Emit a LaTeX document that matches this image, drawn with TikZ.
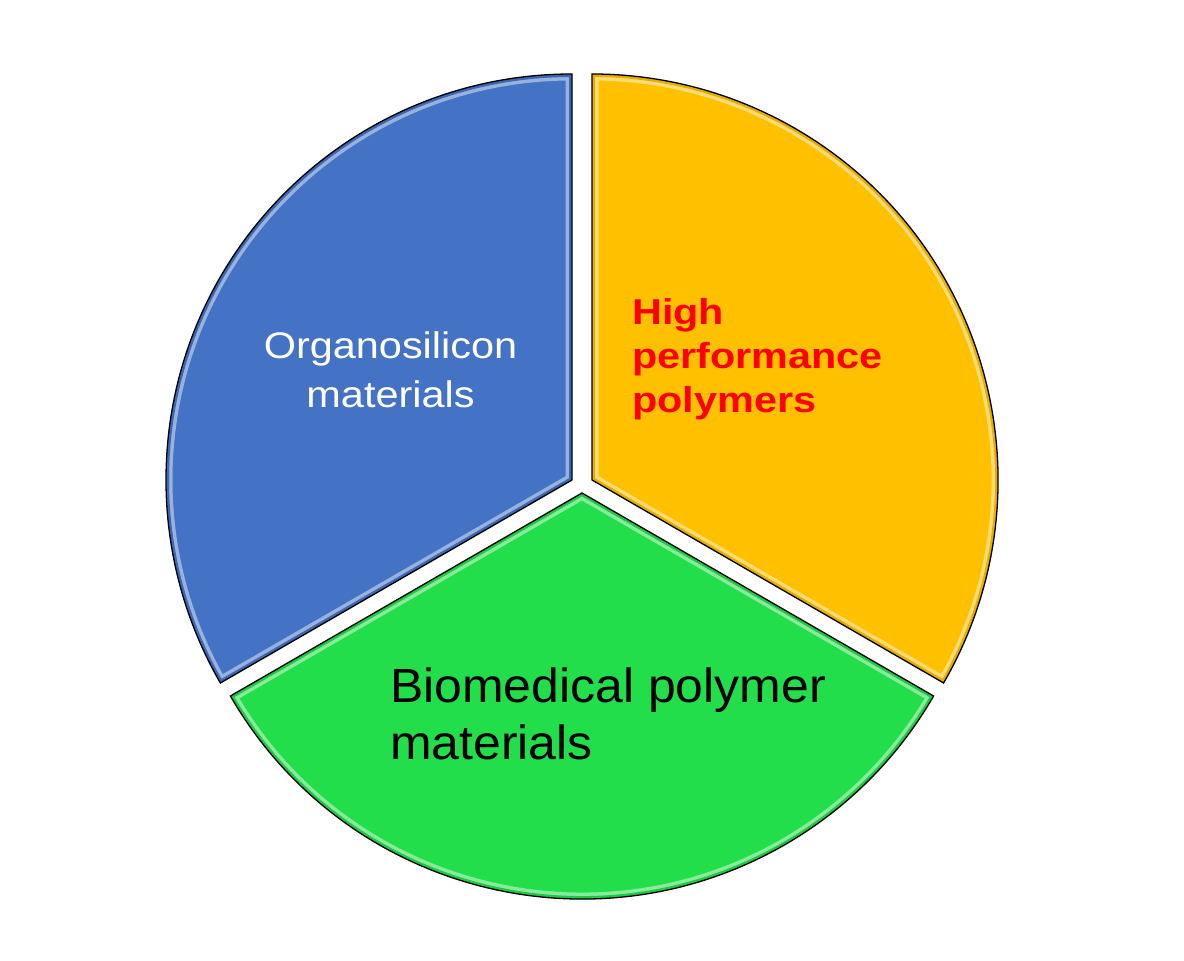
\documentclass[tikz,border=0pt]{standalone}
\usepackage{fontspec}
\setmainfont{Liberation Sans}
\newfontfamily\orgfont[FakeStretch=1.12]{Liberation Sans}
\newfontfamily\highfont[FakeStretch=1.15]{Liberation Sans}
\newfontfamily\biofont[FakeStretch=1.04]{Liberation Sans}
\usetikzlibrary{positioning}
\definecolor{sliceblue}{RGB}{68,114,196}
\definecolor{sliceorange}{RGB}{255,192,0}
\definecolor{slicegreen}{RGB}{35,222,75}
\definecolor{textred}{RGB}{255,0,0}

\begin{document}
\begin{tikzpicture}[x=1pt,y=1pt,
  slice/.style={draw=black,line width=1.3pt,line join=miter},
  glow/.style={white,opacity=.45,line width=13pt},
  slicetext/.style={inner sep=0pt}]
\useasboundingbox (0,0) rectangle (1184,961);
% three exploded slices: colour / apex / start and end angle
\foreach \col/\cx/\cy/\a/\b in {sliceblue/572/481/90/210,
  sliceorange/592/481/-30/90, slicegreen/582/468/210/330}{
  \begin{scope}
    \clip (\cx,\cy) -- ++(\a:406) arc[start angle=\a,end angle=\b,radius=406] -- cycle;
    \fill[\col] (\cx,\cy) -- ++(\a:406) arc[start angle=\a,end angle=\b,radius=406] -- cycle;
    \draw[glow] (\cx,\cy) -- ++(\a:406) arc[start angle=\a,end angle=\b,radius=406] -- cycle;
    \draw[\col!90!black,line width=6pt] (\cx,\cy) -- ++(\a:406) arc[start angle=\a,end angle=\b,radius=406] -- cycle;
  \end{scope}
  \draw[slice] (\cx,\cy) -- ++(\a:406) arc[start angle=\a,end angle=\b,radius=406] -- cycle;
}
\node[slicetext,align=center,text=white,font=\orgfont\fontsize{37}{49}\selectfont]
  (org) at (390.5,591.5) {Organosilicon\\materials};
\node[slicetext,align=left,anchor=west,text=textred,font=\highfont\bfseries\fontsize{36}{44}\selectfont]
  (high) at (632,602) {High\\performance\\polymers};
\node[slicetext,align=left,anchor=west,text=black,font=\biofont\fontsize{48}{57}\selectfont]
  (bio) at (390,247) {Biomedical polymer\\materials};
\end{tikzpicture}
\end{document}
